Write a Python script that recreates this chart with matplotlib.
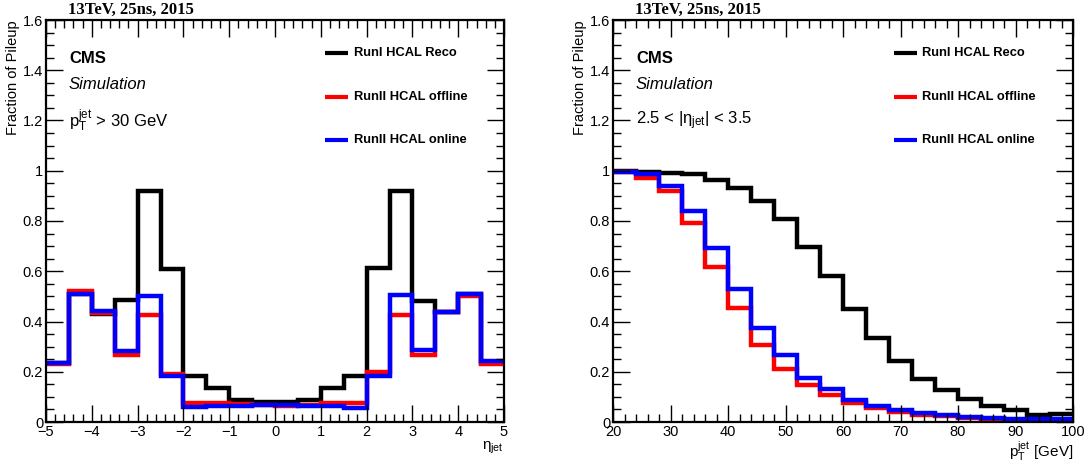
import numpy as np
import matplotlib
matplotlib.use("Agg")
import matplotlib.pyplot as plt
from matplotlib.ticker import MultipleLocator, FuncFormatter

# ---------------- data ----------------
eta_edges = np.arange(-5.0, 5.01, 0.5)
eta_reco = [0.235, 0.508, 0.430, 0.485, 0.920, 0.608, 0.185, 0.136, 0.086, 0.078,
            0.078, 0.086, 0.136, 0.185, 0.614, 0.920, 0.481, 0.436, 0.508, 0.235]
eta_offline = [0.230, 0.520, 0.435, 0.265, 0.424, 0.193, 0.076, 0.076, 0.073, 0.069,
               0.062, 0.069, 0.076, 0.076, 0.198, 0.427, 0.265, 0.436, 0.500, 0.229]
eta_online = [0.235, 0.510, 0.440, 0.282, 0.500, 0.185, 0.060, 0.062, 0.062, 0.066,
              0.069, 0.062, 0.062, 0.056, 0.185, 0.505, 0.285, 0.436, 0.508, 0.242]

pt_edges = np.arange(20, 100.1, 4)
pt_reco = [1.000, 0.997, 0.993, 0.987, 0.964, 0.933, 0.880, 0.807, 0.698, 0.581,
           0.451, 0.335, 0.242, 0.173, 0.126, 0.092, 0.065, 0.047, 0.029, 0.033]
pt_offline = [0.997, 0.970, 0.920, 0.794, 0.618, 0.455, 0.308, 0.211, 0.149, 0.108,
              0.076, 0.056, 0.040, 0.029, 0.023, 0.016, 0.012, 0.009, 0.007, 0.007]
pt_online = [0.997, 0.987, 0.940, 0.838, 0.694, 0.528, 0.375, 0.268, 0.176, 0.132,
             0.089, 0.0625, 0.049, 0.036, 0.029, 0.020, 0.016, 0.012, 0.012, 0.012]

labels = ["RunI HCAL Reco", "RunII HCAL offline", "RunII HCAL online"]
colors = ["black", "#ff0000", "#0000ff"]

SANS = ["Liberation Sans", "DejaVu Sans"]
SERIF = ["Liberation Serif", "DejaVu Serif"]
plt.rcParams["font.family"] = SANS
plt.rcParams["mathtext.fontset"] = "custom"
plt.rcParams["mathtext.rm"] = "Liberation Sans"
plt.rcParams["mathtext.it"] = "Liberation Sans:italic"

fig = plt.figure(figsize=(10.89, 4.66), dpi=100)
axL = fig.add_axes([46/1089, 44/466, 458/1089, 402/466])
axR = fig.add_axes([613/1089, 44/466, 460/1089, 402/466])


def fmt(v, pos):
    s = f"{v:g}"
    return s.replace("-", "\u2212")


def style(ax, xmaj, xmin):
    ax.set_ylim(0, 1.6)
    ax.yaxis.set_major_locator(MultipleLocator(0.2))
    ax.yaxis.set_minor_locator(MultipleLocator(0.05))
    ax.xaxis.set_major_locator(MultipleLocator(xmaj))
    ax.xaxis.set_minor_locator(MultipleLocator(xmin))
    ax.xaxis.set_major_formatter(FuncFormatter(fmt))
    ax.yaxis.set_major_formatter(FuncFormatter(fmt))
    ax.tick_params(which="both", direction="in", top=True, right=True,
                   labelsize=10.5, width=1.0, colors="black")
    ax.tick_params(which="major", length=12, pad=2)
    ax.tick_params(which="minor", length=6)
    for s in ax.spines.values():
        s.set_linewidth(1.6)
    ax.set_ylabel("Fraction of Pileup", fontsize=10.5, loc="top", labelpad=2)
    ax.text(0.048, 1.005, "13TeV, 25ns, 2015", transform=ax.transAxes,
            family=SERIF, fontweight="bold", fontsize=12, ha="left", va="bottom")
    ax.text(0.05, 0.905, "CMS", transform=ax.transAxes, fontweight="bold",
            fontsize=12, ha="left", va="center")
    ax.text(0.05, 0.84, "Simulation", transform=ax.transAxes, style="italic",
            fontsize=12, ha="left", va="center")


def legend(ax, x0):
    ys = [0.918, 0.808, 0.701]
    for lab, col, y in zip(labels, colors, ys):
        ax.plot([x0, x0 + 0.05], [y, y], transform=ax.transAxes, color=col,
                lw=3, solid_capstyle="butt")
        ax.text(x0 + 0.062, y, lab, transform=ax.transAxes, fontweight="bold",
                fontsize=9.3, ha="left", va="center")


# Left panel
for vals, col in zip([eta_reco, eta_offline, eta_online], colors):
    axL.stairs(vals, eta_edges, color=col, lw=3.2, baseline=None)
axL.set_xlim(-5, 5)
style(axL, 1, 0.2)
axL.text(0.05, 0.75, r"p$_{\rm T}^{\rm jet}$ > 30 GeV", transform=axL.transAxes,
         fontsize=12, ha="left", va="center")
axL.text(1.0, -0.045, "η$_{\\rm jet}$", transform=axL.transAxes, fontsize=11,
         ha="right", va="top")
legend(axL, 0.61)

# Right panel
for vals, col in zip([pt_reco, pt_offline, pt_online], colors):
    axR.stairs(vals, pt_edges, color=col, lw=3.2, baseline=None)
axR.set_xlim(20, 100)
style(axR, 10, 2)
axR.text(0.05, 0.75, "2.5 < |η$_{\\rm jet}$| < 3.5", transform=axR.transAxes,
         fontsize=12, ha="left", va="center")
axR.text(1.0, -0.045, r"p$_{\rm T}^{\rm jet}$ [GeV]", transform=axR.transAxes,
         fontsize=11, ha="right", va="top")
legend(axR, 0.61)

fig.savefig("out.png", dpi=100)
